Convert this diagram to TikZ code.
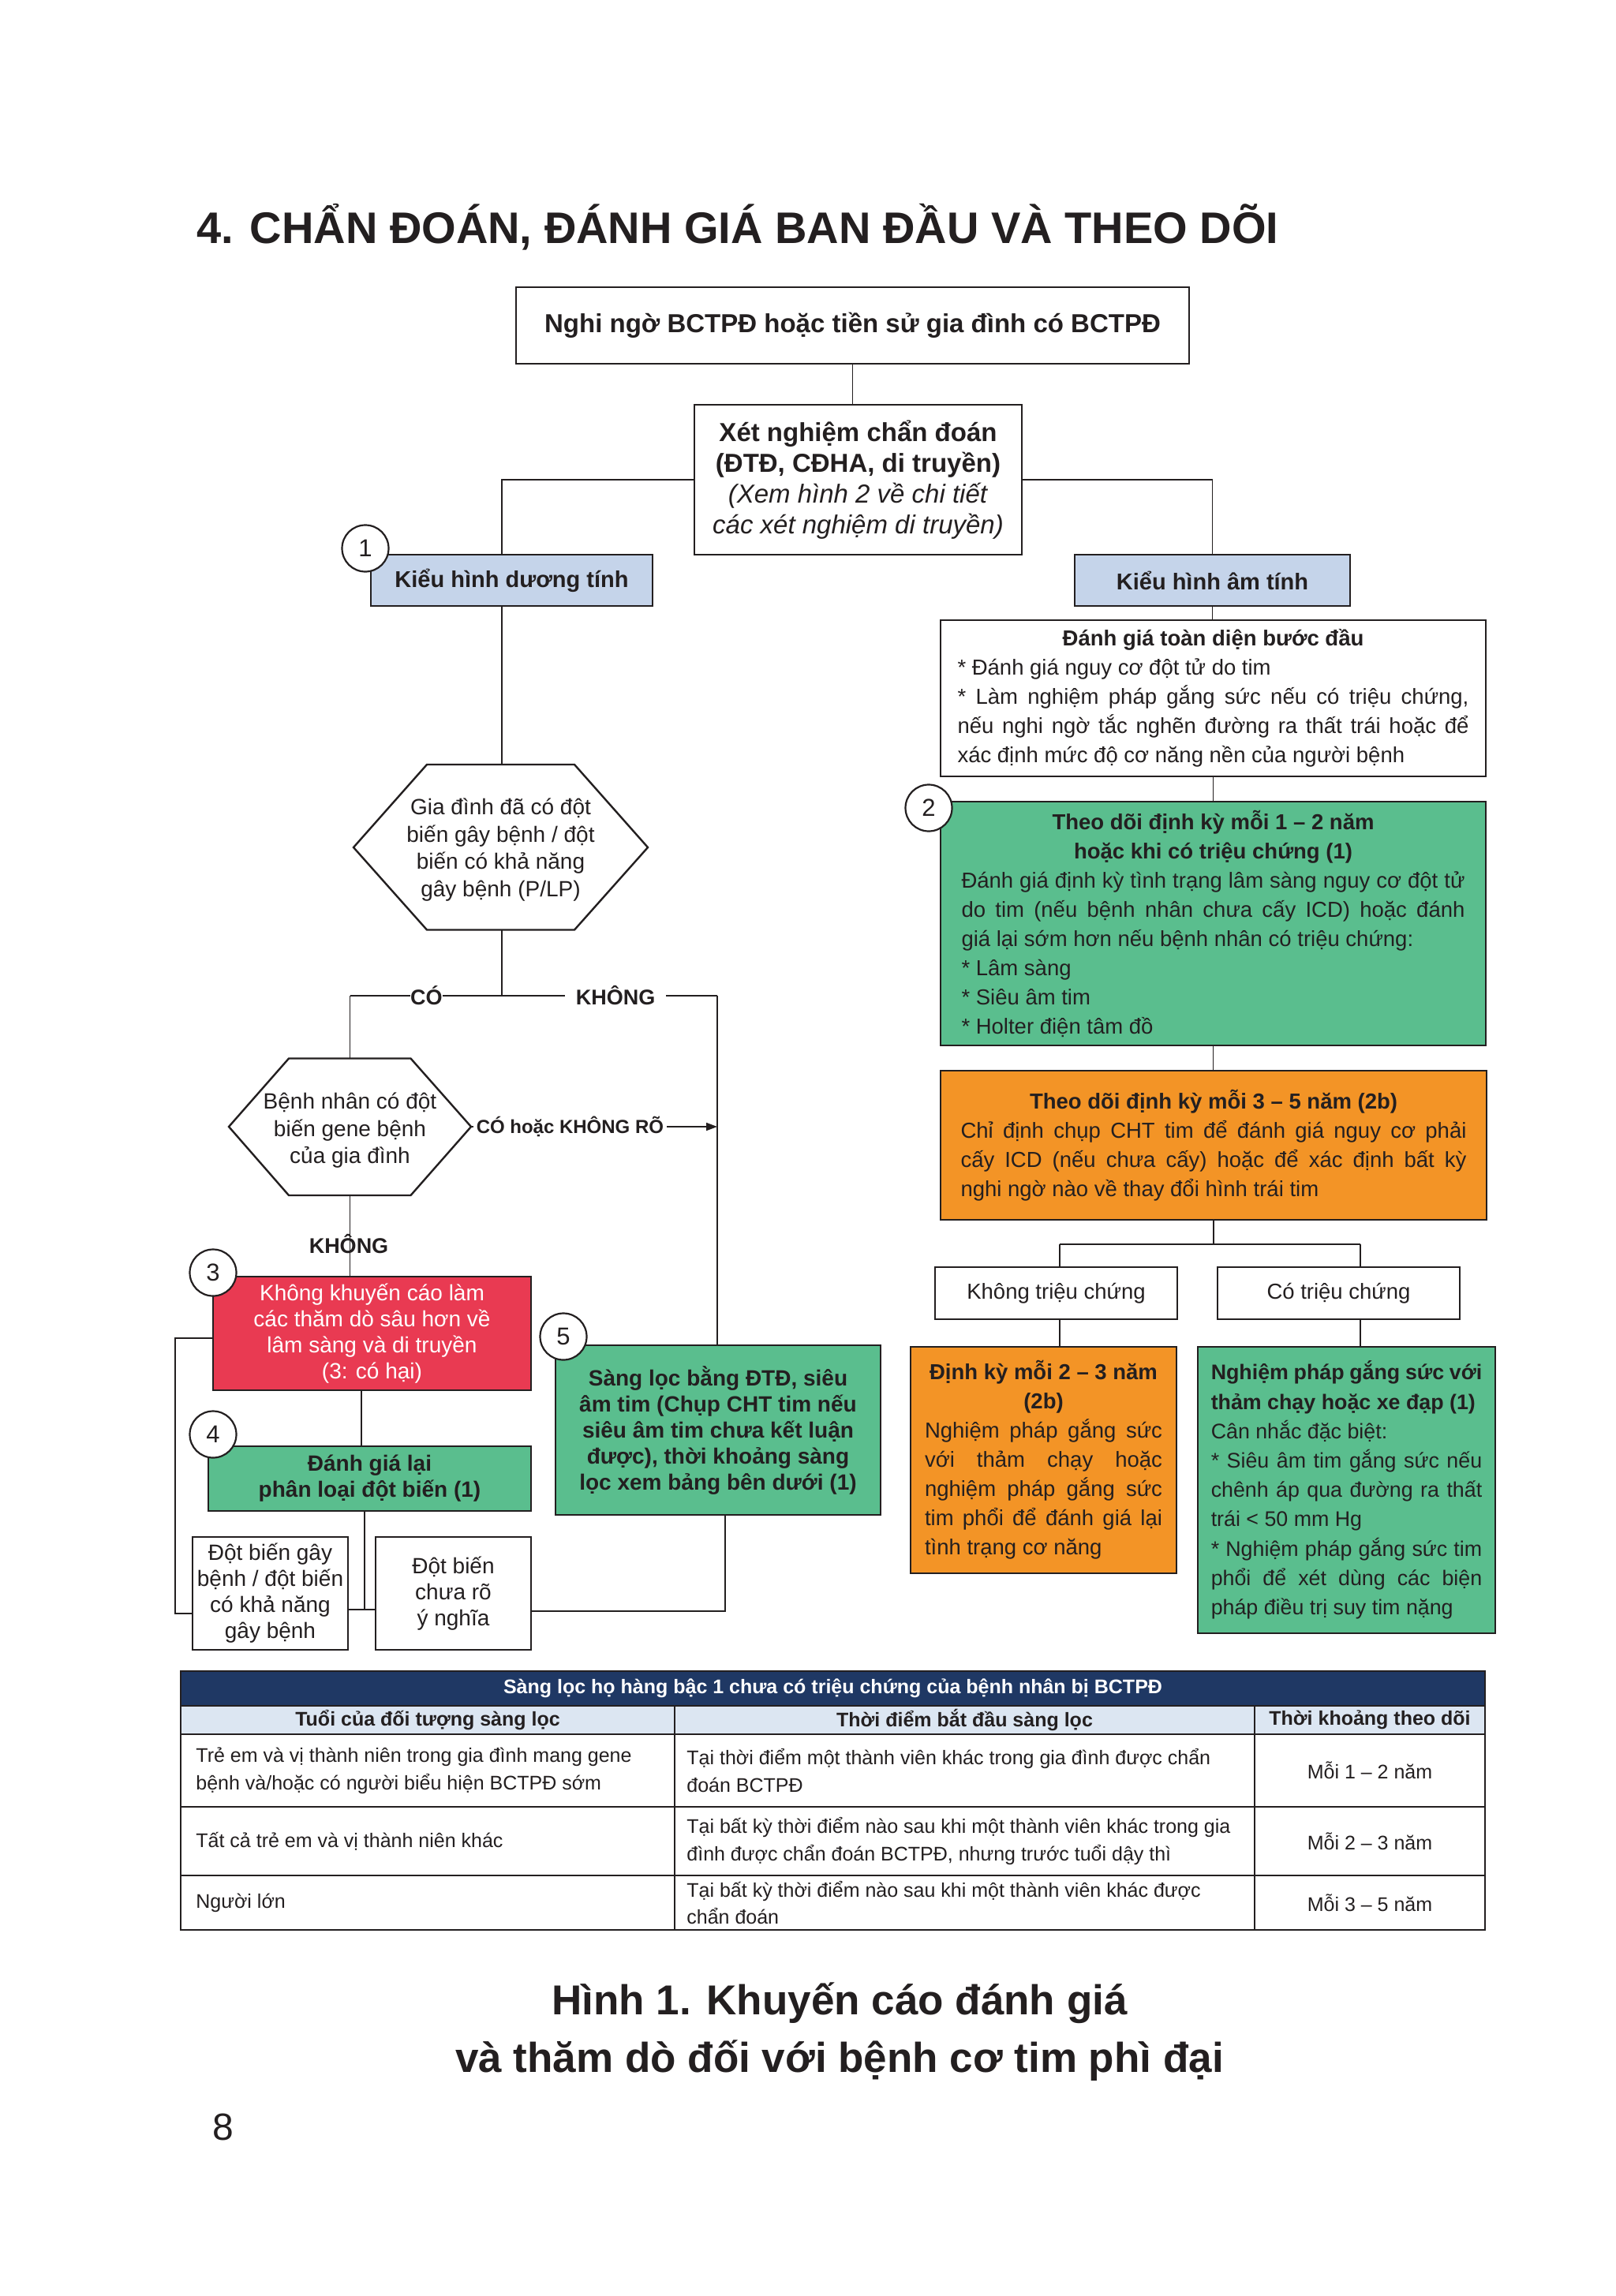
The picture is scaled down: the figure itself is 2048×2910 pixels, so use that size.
\documentclass[tikz,border=0pt]{standalone}
\usepackage{fontspec}
\setmainfont{Liberation Sans}
\usepackage{graphicx}
\usetikzlibrary{arrows.meta}
\definecolor{ink}{RGB}{35,31,32}
\definecolor{blueF}{RGB}{197,212,234}
\definecolor{greenF}{RGB}{90,190,142}
\definecolor{orangeF}{RGB}{243,148,38}
\definecolor{redF}{RGB}{233,58,82}
\definecolor{navy}{RGB}{31,56,100}
\definecolor{lightB}{RGB}{220,230,242}
\newlength{\jw}
\newcommand{\jl}[1]{\hbox to\jw{#1}}
\newcommand{\cl}[1]{\hbox to\jw{\hfil#1\hfil}}
\newcommand{\bodyR}{\fontsize{13.75pt}{18.5pt}\selectfont}
\newcommand{\bodyL}{\fontsize{14pt}{16.5pt}\selectfont}
\newcommand{\tabf}{\fontsize{12.5pt}{17.35pt}\selectfont}
\begin{document}
\begin{tikzpicture}[x=0.5pt,y=-0.5pt,
  every node/.style={text=ink},
  box/.style={draw=ink,line width=1.2pt,inner sep=0pt,align=left},
  conn/.style={draw=ink,line width=0.9pt},
  num/.style={circle,draw=ink,fill=white,line width=1.1pt,minimum size=29.5pt,inner sep=0pt,font=\fontsize{15.5pt}{18pt}\selectfont},
  hexl/.style={draw=ink,line width=1.2pt,fill=white},
  lbl/.style={font=\fontsize{13.5pt}{16pt}\selectfont\bfseries},
  tline/.style={draw=ink,line width=0.8pt},
  tcell/.style={font=\tabf,align=left,inner sep=0pt,anchor=west},
  tcen/.style={font=\tabf,align=center,inner sep=0pt},
]
\fill[white] (0,0) rectangle (2048,2910);
\useasboundingbox (0,0) rectangle (2048,2910);

% title
\node[anchor=base west,inner sep=0pt,font=\fontsize{28pt}{32pt}\selectfont\bfseries] (title) at (249,309) {4. CHẨN ĐOÁN, ĐÁNH GIÁ BAN ĐẦU VÀ THEO DÕI};

% top part
\node[box,align=center,minimum width=426.5pt,minimum height=48.5pt,font=\fontsize{16.5pt}{19.5pt}\selectfont\bfseries] (top) at (1080.5,412.5) {Nghi ngờ BCTPĐ hoặc tiền sử gia đình có BCTPĐ};
\node[box,align=center,minimum width=207.5pt,minimum height=95pt,font=\fontsize{16.5pt}{19.5pt}\selectfont] (xn) at (1087.5,608) {\textbf{Xét nghiệm chẩn đoán}\\\textbf{(ĐTĐ, CĐHA, di truyền)}\\\textit{(Xem hình 2 về chi tiết}\\\textit{các xét nghiệm di truyền)}};
\node[box,align=center,fill=blueF,minimum width=178.5pt,minimum height=32.5pt,font=\fontsize{14.5pt}{17pt}\selectfont\bfseries] (duong) at (648.5,735.5) {Kiểu hình dương tính};
\node[box,align=center,fill=blueF,minimum width=174.5pt,minimum height=32.5pt,font=\fontsize{14.5pt}{17pt}\selectfont\bfseries] (am) at (1536.5,735.5) {Kiểu hình âm tính};

% right column
\node[box,minimum width=345.5pt,minimum height=99pt,font={\bodyR\setlength{\jw}{324pt}}] (dgtd) at (1537.5,885) {\cl{\bfseries Đánh giá toàn diện bước đầu}\\* Đánh giá nguy cơ đột tử do tim\\\jl{* Làm nghiệm pháp gắng sức nếu có triệu chứng,}\\\jl{nếu nghi ngờ tắc nghẽn đường ra thất trái hoặc để}\\xác định mức độ cơ năng nền của người bệnh};
\node[box,fill=greenF,minimum width=345.5pt,minimum height=154.5pt,font={\bodyR\setlength{\jw}{319pt}}] (g2) at (1537.5,1170.5) {\cl{\bfseries Theo dõi định kỳ mỗi 1 – 2 năm}\\\cl{\bfseries hoặc khi có triệu chứng (1)}\\\jl{Đánh giá định kỳ tình trạng lâm sàng nguy cơ đột tử}\\\jl{do tim (nếu bệnh nhân chưa cấy ICD) hoặc đánh}\\giá lại sớm hơn nếu bệnh nhân có triệu chứng:\\* Lâm sàng\\* Siêu âm tim\\* Holter điện tâm đồ};
\node[box,fill=orangeF,minimum width=346pt,minimum height=94.5pt,font={\bodyR\setlength{\jw}{320.5pt}}] (o2b) at (1538,1451.5) {\cl{\bfseries Theo dõi định kỳ mỗi 3 – 5 năm (2b)}\\\jl{Chỉ định chụp CHT tim để đánh giá nguy cơ phải}\\\jl{cấy ICD (nếu chưa cấy) hoặc để xác định bất kỳ}\\nghi ngờ nào về thay đổi hình trái tim};
\node[box,align=center,minimum width=153.5pt,minimum height=33pt,font=\bodyR] (ktc) at (1338.5,1639) {Không triệu chứng};
\node[box,align=center,minimum width=153.5pt,minimum height=33pt,font=\bodyR] (ctc) at (1696.5,1639) {Có triệu chứng};
\node[box,fill=orangeF,minimum width=168.5pt,minimum height=143.5pt,font={\bodyR\setlength{\jw}{150.5pt}}] (o2) at (1322.5,1850.5) {\cl{\bfseries Định kỳ mỗi 2 – 3 năm}\\\cl{\bfseries (2b)}\\\jl{Nghiệm pháp gắng sức}\\\jl{với thảm chạy hoặc}\\\jl{nghiệm pháp gắng sức}\\\jl{tim phổi để đánh giá lại}\\tình trạng cơ năng};
\node[box,fill=greenF,minimum width=188.5pt,minimum height=181.5pt,font={\fontsize{13.4pt}{18.6pt}\selectfont\setlength{\jw}{171.75pt}}] (g3) at (1706.5,1888.5) {\jl{\bfseries Nghiệm pháp gắng sức với}\\{\bfseries thảm chạy hoặc xe đạp (1)}\\Cân nhắc đặc biệt:\\\jl{* Siêu âm tim gắng sức nếu}\\\jl{chênh áp qua đường ra thất}\\trái < 50 mm Hg\\\jl{* Nghiệm pháp gắng sức tim}\\\jl{phổi để xét dùng các biện}\\pháp điều trị suy tim nặng};

% left column: hexagons
\draw[hexl] (448,1074) -- (541,969) -- (728,969) -- (821,1074) -- (728,1178.5) -- (541,1178.5) -- cycle;
\node[font=\fontsize{14pt}{17.25pt}\selectfont,align=center,inner sep=0pt] (hex1) at (634.5,1077) {Gia đình đã có đột\\biến gây bệnh / đột\\biến có khả năng\\gây bệnh (P/LP)};
\draw[hexl] (290,1428) -- (366,1341.5) -- (520.5,1341.5) -- (597,1428) -- (520.5,1515) -- (366,1515) -- cycle;
\node[font=\fontsize{14pt}{17.25pt}\selectfont,align=center,inner sep=0pt] (hex2) at (443.5,1433) {Bệnh nhân có đột\\biến gene bệnh\\của gia đình};
\coordinate (h1n) at (636,969);
\coordinate (h1s) at (636,1178.5);
\coordinate (h2n) at (443.5,1341.5);
\coordinate (h2s) at (443.5,1515);
\coordinate (h2e) at (597,1428);
\coordinate (jL) at (636,703);
\coordinate (j1) at (636,1262);
\coordinate (jCo) at (443.5,1262);
\coordinate (jKh) at (909,1262);

\node[box,align=center,fill=redF,text=white,minimum width=201.5pt,minimum height=72pt,font=\bodyL] (red) at (471.5,1690) {Không khuyến cáo làm\\các thăm dò sâu hơn về\\lâm sàng và di truyền\\(3: có hại)};
\node[box,align=center,fill=greenF,minimum width=204.5pt,minimum height=41pt,font=\bodyL\bfseries] (g4) at (468.5,1874) {Đánh giá lại\\phân loại đột biến (1)};
\node[box,align=center,fill=greenF,minimum width=206pt,minimum height=107.5pt,font=\bodyL\bfseries] (b5) at (910,1812.5) {Sàng lọc bằng ĐTĐ, siêu\\âm tim (Chụp CHT tim nếu\\siêu âm tim chưa kết luận\\được), thời khoảng sàng\\lọc xem bảng bên dưới (1)};
\node[box,align=center,minimum width=98.5pt,minimum height=71.5pt,font=\bodyL] (lb) at (342.5,2019.5) {Đột biến gây\\bệnh / đột biến\\có khả năng\\gây bệnh};
\node[box,align=center,minimum width=98.5pt,minimum height=71.5pt,font=\bodyL] (rb) at (574.5,2019.5) {Đột biến\\chưa rõ\\ý nghĩa};

% connectors top / left
\draw[conn] (top.south) -- (top.south |- xn.north);
\draw[conn] (xn.west) -| (jL);
\draw[conn] (xn.east) -| (am.north);
\draw[conn] (jL |- duong.south) -- (h1n);
\draw[conn] (h1s) -- (j1);
\draw[conn] (jCo) -- node[pos=0.208,fill=white,inner sep=0pt,lbl] (lco) {CÓ} node[pos=0.723,fill=white,inner xsep=7pt,inner ysep=0pt,lbl] (lkh) {KHÔNG} (jKh);
\draw[conn] (jCo) -- (h2n);
\draw[conn] (jKh) -- (jKh |- b5.north);
\draw[conn,-{Triangle[length=7pt,width=5pt]}] (h2e) -- node[pos=0.402,fill=white,inner xsep=2pt,inner ysep=0pt,font=\fontsize{12pt}{14pt}\selectfont\bfseries] (lcok) {CÓ hoặc KHÔNG RÕ} (jKh |- h2e);
\draw[conn] (h2s) -- (h2s |- red.north);
\node[lbl,inner sep=0pt] (lkh2) at (442,1577) {KHÔNG};
\coordinate (xR) at (458,1800);
\draw[conn] (red.south -| xR) -- (g4.north -| xR);
\coordinate (xG) at (462,2040);
\draw[conn] (g4.south -| xG) -- (xG);
\draw[conn] (lb.east |- xG) -- (rb.west |- xG);
\coordinate (lp1) at (222,1696);
\coordinate (lp2) at (222,2045);
\draw[conn] (red.west |- lp1) -- (lp1) -- (lp2) -- (lb.west |- lp2);
\coordinate (rp) at (919,2042);
\draw[conn] (b5.south -| rp) -- (rp) -- (rb.east |- rp);

% connectors right
\draw[conn] (am.south) -- (am.south |- dgtd.north);
\draw[conn] (dgtd.south) -- (dgtd.south |- g2.north);
\draw[conn] (g2.south) -- (g2.south |- o2b.north);
\coordinate (jB1) at (1343,1577);
\coordinate (jB2) at (1724,1577);
\draw[conn] (o2b.south) -- (o2b.south |- jB1);
\draw[conn] (jB1) -- (jB2);
\draw[conn] (jB1) -- (jB1 |- ktc.north);
\draw[conn] (jB2) -- (jB2 |- ctc.north);
\draw[conn] (jB1 |- ktc.south) -- (jB1 |- o2.north);
\draw[conn] (jB2 |- ctc.south) -- (jB2 |- g3.north);

% number circles
\node[num] (c1) at (463,695) {1};
\node[num] (c2) at (1177,1024) {2};
\node[num] (c3) at (270,1613) {3};
\node[num] (c4) at (270,1818) {4};
\node[num] (c5) at (714,1694) {5};

% table
\fill[navy] (229,2118) rectangle (1882,2162);
\fill[lightB] (229,2162) rectangle (1882,2198);
\foreach \yy in {2162,2198,2290,2377} \draw[tline] (229,\yy) -- (1882,\yy);
\draw[tline] (855,2162) -- (855,2446);
\draw[tline] (1590,2162) -- (1590,2446);
\draw[draw=ink,line width=1.1pt] (229,2118) rectangle (1882,2446);
\node[font=\tabf\bfseries,text=white,inner sep=0pt] (th) at (1055.5,2140) {Sàng lọc họ hàng bậc 1 chưa có triệu chứng của bệnh nhân bị BCTPĐ};
\node[tcen,font=\tabf\bfseries] (hA) at (542,2180) {Tuổi của đối tượng sàng lọc};
\node[tcen,font=\tabf\bfseries] (hB) at (1222.5,2180) {Thời điểm bắt đầu sàng lọc};
\node[tcen,font=\tabf\bfseries] (hC) at (1736,2180) {Thời khoảng theo dõi};
\node[tcell] (r1a) at (248,2244) {Trẻ em và vị thành niên trong gia đình mang gene\\bệnh và/hoặc có người biểu hiện BCTPĐ sớm};
\node[tcell] (r1b) at (870,2244) {Tại thời điểm một thành viên khác trong gia đình được chẩn\\đoán BCTPĐ};
\node[tcen] (r1c) at (1736,2244) {Mỗi 1 – 2 năm};
\node[tcell] (r2a) at (248,2333.5) {Tất cả trẻ em và vị thành niên khác};
\node[tcell] (r2b) at (870,2333.5) {Tại bất kỳ thời điểm nào sau khi một thành viên khác trong gia\\đình được chẩn đoán BCTPĐ, nhưng trước tuổi dậy thì};
\node[tcen] (r2c) at (1736,2333.5) {Mỗi 2 – 3 năm};
\node[tcell] (r3a) at (248,2411.5) {Người lớn};
\node[tcell] (r3b) at (870,2411.5) {Tại bất kỳ thời điểm nào sau khi một thành viên khác được\\chẩn đoán};
\node[tcen] (r3c) at (1736,2411.5) {Mỗi 3 – 5 năm};

% caption
\node[anchor=base,inner sep=0pt,font=\fontsize{26.5pt}{36.5pt}\selectfont\bfseries] (cap1) at (1064,2553) {Hình 1. Khuyến cáo đánh giá};
\node[anchor=base,inner sep=0pt,font=\fontsize{26.5pt}{36.5pt}\selectfont\bfseries] (cap2) at (1064,2626) {và thăm dò đối với bệnh cơ tim phì đại};
\node[anchor=base west,inner sep=0pt,font=\fontsize{24pt}{28pt}\selectfont] (pg) at (269,2712) {8};
\end{tikzpicture}
\end{document}
